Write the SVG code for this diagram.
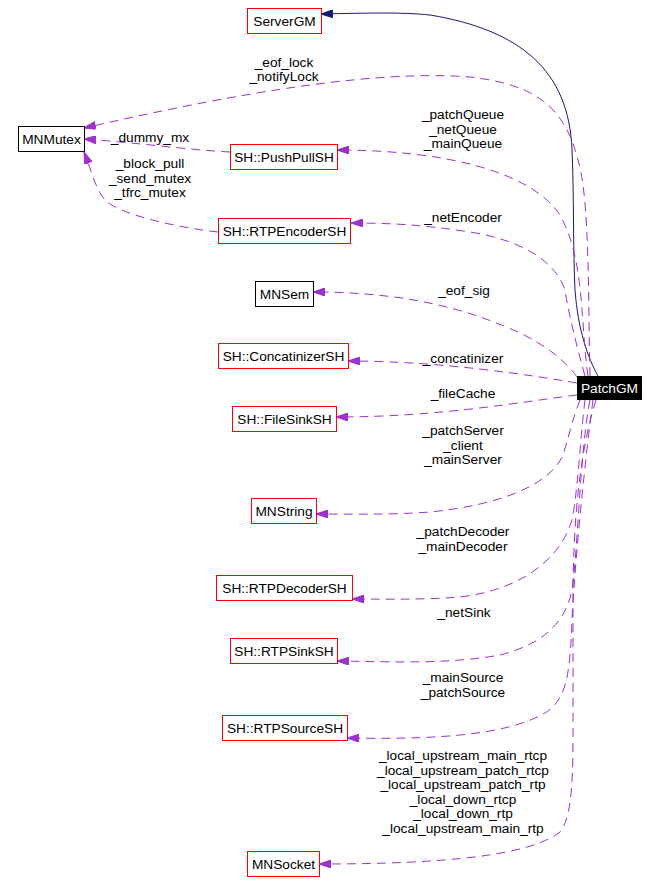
<svg xmlns="http://www.w3.org/2000/svg" width="659" height="894" viewBox="0 0 659 894">
<style>
text{font-family:"Liberation Sans",Arial,sans-serif;font-size:13.7px;fill:#000}
.n{text-anchor:middle}
.lbl{text-anchor:middle}
.box{fill:#fff;stroke:#ff0000;stroke-width:1}
.boxk{fill:#fff;stroke:#000;stroke-width:1}
.use{fill:none;stroke:#9a32cd;stroke-width:1;stroke-dasharray:9,6}
.inh{fill:none;stroke:#191970;stroke-width:1}
</style>
<defs>
<marker id="ap" viewBox="0 0 12 8" refX="12" refY="4" markerWidth="12" markerHeight="8" markerUnits="userSpaceOnUse" orient="auto"><path d="M0,0 L12,4 L0,8 z" fill="#9a32cd" stroke="#9a32cd"/></marker>
<marker id="an" viewBox="0 0 12 8" refX="12" refY="4" markerWidth="12" markerHeight="8" markerUnits="userSpaceOnUse" orient="auto"><path d="M0,0 L12,4 L0,8 z" fill="#191970" stroke="#191970"/></marker>
</defs>
<rect width="659" height="894" fill="#fff"/>
<g id="edges">
<path class="inh" marker-end="url(#an)" d="M598,376 C588,358 578,330 575,290 C573,250 574,190 572,150 C569,70 520,30 430,15 C400,12 370,13 321,14"/>
<path class="use" marker-end="url(#ap)" d="M590,376 C588,300 590,200 578,160 C565,110 540,85 470,77 C380,70 250,90 84,128"/>
<path class="use" marker-end="url(#ap)" d="M230,152 C190,150 130,142 84,139"/>
<path class="use" marker-end="url(#ap)" d="M218,232 C180,228 120,215 105,200 C95,188 92,172 84,152"/>
<path class="use" marker-end="url(#ap)" d="M588,376 C580,320 585,260 560,215 C530,170 440,150 337,150"/>
<path class="use" marker-end="url(#ap)" d="M585,376 C575,340 568,310 565,290 C555,260 520,240 470,232 C430,226 400,223 351,223"/>
<path class="use" marker-end="url(#ap)" d="M577,377 C565,360 545,345 520,333 C480,315 420,292 313,292"/>
<path class="use" marker-end="url(#ap)" d="M577,383 C530,375 440,361 348,361"/>
<path class="use" marker-end="url(#ap)" d="M577,395 C520,402 440,417 336,417"/>
<path class="use" marker-end="url(#ap)" d="M580,400 C572,420 568,440 563,455 C550,485 500,505 430,512 C390,515 350,514 316,514"/>
<path class="use" marker-end="url(#ap)" d="M585,400 C580,440 578,490 572,520 C560,560 520,590 460,597 C420,600 390,599 352,599"/>
<path class="use" marker-end="url(#ap)" d="M590,400 C580,450 578,550 572,590 C565,625 540,645 500,655 C450,664 400,662 337,661"/>
<path class="use" marker-end="url(#ap)" d="M593,400 C585,460 575,560 572,620 C570,680 565,700 545,713 C510,733 450,740 347,738"/>
<path class="use" marker-end="url(#ap)" d="M596,400 C580,450 573,520 573,600 L573,740 C573,790 570,820 560,832 C530,855 450,864 319,864"/>
<text class="lbl" x="284" y="66.5">_eof_lock</text>
<text class="lbl" x="284" y="81">_notifyLock</text>
<text class="lbl" x="150" y="141.5">_dummy_mx</text>
<text class="lbl" x="150" y="168">_block_pull</text>
<text class="lbl" x="150" y="182.5">_send_mutex</text>
<text class="lbl" x="150" y="197">_tfrc_mutex</text>
<text class="lbl" x="463" y="119">_patchQueue</text>
<text class="lbl" x="463" y="133.5">_netQueue</text>
<text class="lbl" x="463" y="148">_mainQueue</text>
<text class="lbl" x="463" y="222">_netEncoder</text>
<text class="lbl" x="464" y="295">_eof_sig</text>
<text class="lbl" x="463" y="363">_concatinizer</text>
<text class="lbl" x="463" y="398">_fileCache</text>
<text class="lbl" x="463" y="435">_patchServer</text>
<text class="lbl" x="463" y="449.5">_client</text>
<text class="lbl" x="463" y="464">_mainServer</text>
<text class="lbl" x="463" y="536">_patchDecoder</text>
<text class="lbl" x="463" y="550.5">_mainDecoder</text>
<text class="lbl" x="464" y="617">_netSink</text>
<text class="lbl" x="463" y="682">_mainSource</text>
<text class="lbl" x="463" y="696.5">_patchSource</text>
<text class="lbl" x="463" y="760">_local_upstream_main_rtcp</text>
<text class="lbl" x="463" y="774.5">_local_upstream_patch_rtcp</text>
<text class="lbl" x="463" y="789">_local_upstream_patch_rtp</text>
<text class="lbl" x="463" y="803.5">_local_down_rtcp</text>
<text class="lbl" x="463" y="818">_local_down_rtp</text>
<text class="lbl" x="463" y="832.5">_local_upstream_main_rtp</text>
</g>
<g id="ServerGM"><rect class="box" x="247.5" y="8.5" width="74" height="25"/><text class="n" x="284.5" y="26">ServerGM</text></g>
<g id="MNMutex"><rect class="boxk" x="18.5" y="126.5" width="66" height="25"/><text class="n" x="51.5" y="144">MNMutex</text></g>
<g id="PushPullSH"><rect class="box" x="230.5" y="144.5" width="107" height="25"/><text class="n" x="284" y="162">SH::PushPullSH</text></g>
<g id="RTPEncoderSH"><rect class="box" x="218.5" y="218.5" width="132" height="25"/><text class="n" x="284.5" y="236">SH::RTPEncoderSH</text></g>
<g id="MNSem"><rect class="boxk" x="255.5" y="281.5" width="58" height="25"/><text class="n" x="284.5" y="299">MNSem</text></g>
<g id="ConcatinizerSH"><rect class="box" x="218.5" y="343.5" width="130" height="25"/><text class="n" x="283.5" y="361">SH::ConcatinizerSH</text></g>
<g id="FileSinkSH"><rect class="box" x="232.5" y="406.5" width="104" height="25"/><text class="n" x="284.5" y="424">SH::FileSinkSH</text></g>
<g id="PatchGM"><rect x="577" y="376" width="65" height="24" fill="#000"/><text class="n" x="609.5" y="393" style="fill:#fff">PatchGM</text></g>
<g id="MNString"><rect class="box" x="251.5" y="498.5" width="65" height="25"/><text class="n" x="284" y="516">MNString</text></g>
<g id="RTPDecoderSH"><rect class="box" x="216.5" y="575.5" width="136" height="25"/><text class="n" x="284.5" y="593">SH::RTPDecoderSH</text></g>
<g id="RTPSinkSH"><rect class="box" x="230.5" y="638.5" width="107" height="25"/><text class="n" x="284" y="656">SH::RTPSinkSH</text></g>
<g id="RTPSourceSH"><rect class="box" x="222.5" y="715.5" width="125" height="25"/><text class="n" x="285" y="733">SH::RTPSourceSH</text></g>
<g id="MNSocket"><rect class="box" x="247.5" y="851.5" width="72" height="25"/><text class="n" x="283.5" y="869">MNSocket</text></g>
</svg>
